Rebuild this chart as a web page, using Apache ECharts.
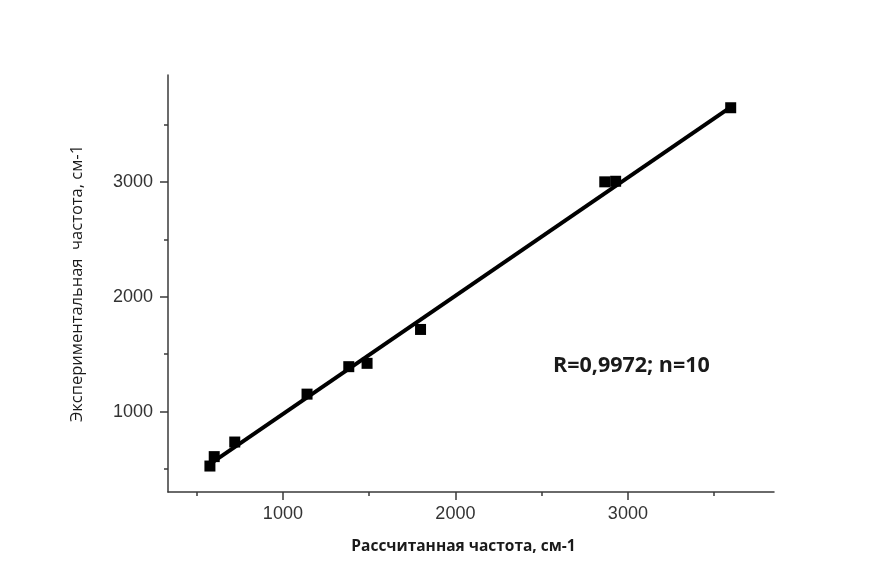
<!DOCTYPE html>
<html>
<head>
<meta charset="utf-8">
<script src="https://cdn.jsdelivr.net/npm/echarts@6/dist/echarts.min.js"></script>
<style>
html,body{margin:0;padding:0;background:#fff;}
#chart{width:882px;height:580px;}
</style>
</head>
<body>
<div id="chart"></div>
<script>
// Data
var calcFreq = [577, 602, 721, 1140, 1382, 1488, 1798, 2866, 2929, 3596];   // Рассчитанная частота
var expFreq  = [526, 608, 735, 1152, 1391, 1420, 1715, 3000, 3005, 3645];   // Экспериментальная частота
var fitX = [589, 3600];
var fitY = [555, 3655];
var xMajorTicks = [1000, 2000, 3000];
var xMinorTicks = [500, 1500, 2500, 3500];
var yMajorTicks = [1000, 2000, 3000];
var yMinorTicks = [500, 1500, 2500, 3500];
var xTitle = 'Рассчитанная частота, см-1';
var yTitle = 'Экспериментальная  частота, см-1';
var annotation = 'R=0,9972; n=10';

var points = calcFreq.map(function (x, i) { return [x, expFreq[i]]; });
var fitLine = fitX.map(function (x, i) { return [x, fitY[i]]; });

var axisColor = '#3a3a3a';
var xMin = 334, xMax = 3847, yMin = 300, yMax = 3930;
var plain = function (v) { return String(v); };

var chart = echarts.init(document.getElementById('chart'), null, {renderer: 'canvas'});
chart.setOption({
  backgroundColor: '#ffffff',
  animation: false,
  grid: {left: 168, right: 108, top: 75, bottom: 88, containLabel: false},
  xAxis: [{
    type: 'value', min: xMin, max: xMax, position: 'bottom',
    name: xTitle, nameLocation: 'middle', nameGap: 47,
    nameTextStyle: {fontFamily: 'Open Sans', fontWeight: 'bold', fontSize: 15.5, color: '#1a1a1a', padding: [0, 15, 0, 0]},
    axisLine: {show: true, lineStyle: {color: axisColor, width: 1.5}},
    axisTick: {show: true, inside: false, length: 8, customValues: xMajorTicks, lineStyle: {color: axisColor, width: 1.5}},
    axisLabel: {show: true, customValues: xMajorTicks, formatter: plain, margin: 13, fontFamily: 'Liberation Sans', fontSize: 18, color: '#333'},
    splitLine: {show: false}
  }, {
    type: 'value', min: xMin, max: xMax, position: 'bottom', gridIndex: 0,
    axisLine: {show: false},
    axisTick: {show: true, inside: false, length: 4, customValues: xMinorTicks, lineStyle: {color: axisColor, width: 1.5}},
    axisLabel: {show: false},
    splitLine: {show: false}
  }],
  yAxis: [{
    type: 'value', min: yMin, max: yMax, position: 'left',
    name: yTitle, nameLocation: 'middle', nameGap: 82, nameRotate: 90,
    nameTextStyle: {fontFamily: 'Open Sans', fontSize: 16.5, color: '#1a1a1a'},
    axisLine: {show: true, lineStyle: {color: axisColor, width: 1.5}},
    axisTick: {show: true, inside: false, length: 8, customValues: yMajorTicks, lineStyle: {color: axisColor, width: 1.5}},
    axisLabel: {show: true, customValues: yMajorTicks, formatter: plain, margin: 15, fontFamily: 'Liberation Sans', fontSize: 18, color: '#333'},
    splitLine: {show: false}
  }, {
    type: 'value', min: yMin, max: yMax, position: 'left', gridIndex: 0,
    axisLine: {show: false},
    axisTick: {show: true, inside: false, length: 4, customValues: yMinorTicks, lineStyle: {color: axisColor, width: 1.5}},
    axisLabel: {show: false},
    splitLine: {show: false}
  }],
  series: [{
    type: 'line', xAxisIndex: 0, yAxisIndex: 0,
    data: fitLine, showSymbol: false, symbol: 'none',
    lineStyle: {color: '#000', width: 4}, z: 2
  }, {
    type: 'scatter', xAxisIndex: 0, yAxisIndex: 0,
    data: points, symbol: 'rect', symbolSize: 11,
    itemStyle: {color: '#000', opacity: 1}, z: 3
  }],
  graphic: [{
    type: 'text', left: 553, top: 355,
    style: {text: annotation, fontFamily: 'Open Sans', fontWeight: 'bold', fontSize: 21.5, fill: '#1a1a1a'}
  }]
});
</script>
</body>
</html>
